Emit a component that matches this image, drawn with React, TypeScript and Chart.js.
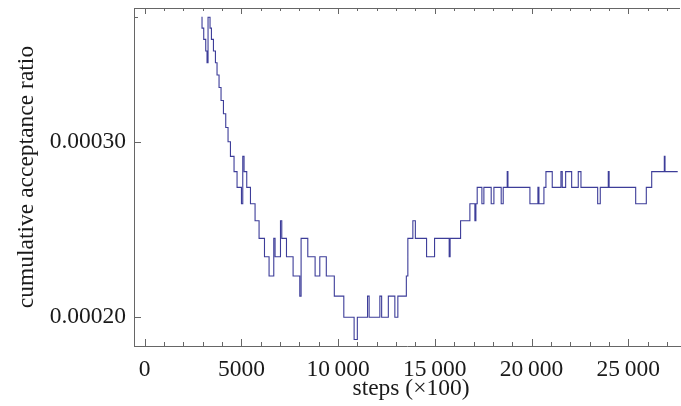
import React, { useEffect, useRef } from 'react';
import { Chart, registerables } from 'chart.js';

Chart.register(...registerables);

// steps (x100) at which the cumulative acceptance ratio changes
const stepX = [
  2933, 2964, 3052, 3156, 3223, 3275, 3378, 3450, 3554, 3657, 3740, 3844, 3947, 4071, 4190, 4309,
  4433, 4619, 4775, 5002, 5070, 5137, 5276, 5468, 5706, 5913, 6193, 6430, 6673, 6740, 7020, 7087,
  7330, 7672, 8018, 8086, 8432, 8810, 9053, 9389, 9803, 10294, 10827, 10993, 11520, 11603, 12157,
  12250, 12596, 12933, 13088, 13527, 13605, 13864, 13993, 14573, 14986, 15742, 15790, 16331, 16812,
  17071, 17123, 17190, 17433, 17536, 17914, 18054, 18431, 18535, 18742, 18780, 19916, 20330, 20382,
  20640, 20744, 21070, 21520, 21587, 21763, 22074, 22415, 22555, 23419, 23553, 23967, 24010, 25384,
  25933, 26212, 26864, 26900, 27557,
];
// ratio level in units of 1e-5, holding from the matching step onward
const ratioE5 = [
  40, 39, 38, 37, 36, 40, 39, 38, 37, 36, 35, 34, 33, 32, 31, 30,
  29, 28, 27, 26, 29, 28, 27, 26, 25, 24, 23, 22, 24, 23, 25, 24,
  23, 22, 21, 24, 23, 22, 23, 22, 21, 20, 19, 20, 21, 20, 21,
  20, 21, 20, 21, 22, 24, 25, 24, 23, 24, 23, 24, 25, 26,
  25, 26, 27, 26, 27, 26, 27, 26, 27, 28, 27, 26, 27, 26,
  27, 28, 27, 28, 27, 28, 27, 28, 27, 26, 27, 28, 27, 26,
  27, 28, 29, 28, 28,
];

const xMajorTicks = [0, 5000, 10000, 15000, 20000, 25000];
const xTickLabels = ['0', '5000', '10\u2009000', '15\u2009000', '20\u2009000', '25\u2009000'];
const yMajorTicks = [0.0002, 0.0003];
const yTickLabels = ['0.00020', '0.00030'];
const yMinorTicks = [0.0004];
const xTitle = 'steps (\u00d7100)';
const yTitle = 'cumulative acceptance ratio';

const X_MIN = -553;
const X_MAX = 27675;
const Y_MIN = 0.00018717;
const Y_MAX = 0.00040857;

const AXIS = '#666666';
const LABEL = '#1a1a1a';
const LINE = 'rgb(61,61,153)';
const FONT = '"Liberation Serif", "Times New Roman", serif';
const FSIZE = 23.5;

const zeroPad = (s: any) => {
  s.paddingTop = 0;
  s.paddingBottom = 0;
  s.paddingLeft = 0;
  s.paddingRight = 0;
};

const decorPlugin = {
  id: 'decor',
  afterDraw(chart: any) {
    const { ctx, chartArea: a, scales } = chart;
    const x = scales.x;
    const y = scales.y;
    ctx.save();
    ctx.strokeStyle = AXIS;
    ctx.lineWidth = 1;
    const seg = (x1: number, y1: number, x2: number, y2: number) => {
      ctx.beginPath();
      ctx.moveTo(x1, y1);
      ctx.lineTo(x2, y2);
      ctx.stroke();
    };
    // top frame line
    seg(a.left, Math.round(a.top) + 0.5, a.right, Math.round(a.top) + 0.5);
    // x ticks (major every 5000, minor every 1000), bottom and top, pointing inward
    for (let v = 0; v <= X_MAX; v += 1000) {
      const px = Math.round(x.getPixelForValue(v)) + 0.5;
      const len = v % 5000 === 0 ? 7 : 4;
      seg(px, a.bottom, px, a.bottom - len);
      seg(px, a.top, px, a.top + len - 1);
    }
    // y ticks
    for (const v of yMajorTicks) {
      const py = Math.round(y.getPixelForValue(v)) + 0.5;
      seg(a.left, py, a.left + 7, py);
    }
    for (const v of yMinorTicks) {
      const py = Math.round(y.getPixelForValue(v)) + 0.5;
      seg(a.left, py, a.left + 4, py);
    }
    // axis titles
    ctx.fillStyle = LABEL;
    ctx.font = `${FSIZE}px ${FONT}`;
    ctx.textAlign = 'center';
    ctx.textBaseline = 'alphabetic';
    ctx.fillText(xTitle, (a.left + a.right) / 2 + 4, 395);
    ctx.translate(33, (a.top + a.bottom) / 2);
    ctx.rotate(-Math.PI / 2);
    ctx.fillText(yTitle, 0, 0);
    ctx.restore();
  },
};

export default function App() {
  const ref = useRef<HTMLCanvasElement | null>(null);
  useEffect(() => {
    if (!ref.current) return;
    const data = stepX.map((sx, i) => ({ x: sx, y: ratioE5[i] * 1e-5 }));
    const chart = new Chart(ref.current, {
      type: 'line',
      data: {
        datasets: [
          {
            data,
            borderColor: LINE,
            borderWidth: 1.1,
            pointRadius: 0,
            stepped: true,
            fill: false,
          },
        ],
      },
      options: {
        animation: false,
        responsive: false,
        maintainAspectRatio: false,
        layout: { padding: { top: 8, right: 1, left: 0, bottom: 0 } },
        plugins: { legend: { display: false }, tooltip: { enabled: false } },
        scales: {
          x: {
            type: 'linear',
            min: X_MIN,
            max: X_MAX,
            afterFit: (s: any) => {
              s.height = 60;
              zeroPad(s);
            },
            afterBuildTicks: (s: any) => {
              s.ticks = xMajorTicks.map((v) => ({ value: v }));
            },
            grid: { display: false, drawTicks: false, tickLength: 0 },
            border: { display: true, color: AXIS, width: 1 },
            ticks: {
              autoSkip: false,
              maxRotation: 0,
              padding: 9.5,
              color: LABEL,
              font: { family: FONT, size: FSIZE },
              callback: (v: any) => {
                const i = xMajorTicks.indexOf(Number(v));
                return i >= 0 ? xTickLabels[i] : '';
              },
            },
          },
          y: {
            type: 'logarithmic',
            min: Y_MIN,
            max: Y_MAX,
            afterFit: (s: any) => {
              s.width = 134;
              zeroPad(s);
            },
            afterBuildTicks: (s: any) => {
              s.ticks = yMajorTicks.map((v) => ({ value: v }));
            },
            grid: { display: false, drawTicks: false, tickLength: 0 },
            border: { display: true, color: AXIS, width: 1 },
            ticks: {
              autoSkip: false,
              padding: 8,
              color: LABEL,
              font: { family: FONT, size: FSIZE },
              callback: (v: any) => {
                const i = yMajorTicks.findIndex((t) => Math.abs(t - Number(v)) < 1e-9);
                return i >= 0 ? yTickLabels[i] : '';
              },
            },
          },
        },
      },
      plugins: [decorPlugin],
    });
    return () => chart.destroy();
  }, []);
  return (
    <div style={{ position: 'absolute', left: 0, top: 0, width: 681, height: 406, background: '#fff' }}>
      <canvas ref={ref} width={681} height={406} style={{ width: 681, height: 406, display: 'block' }} />
    </div>
  );
}
